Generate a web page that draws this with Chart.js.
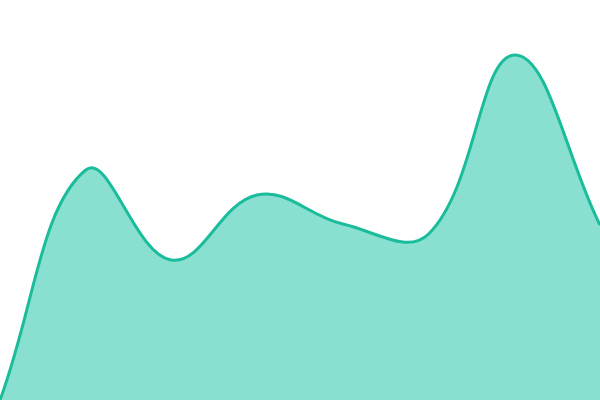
<!DOCTYPE html>
<html>
<head>
<meta charset="utf-8">
<script src="https://cdn.jsdelivr.net/npm/chart.js@4.4.1/dist/chart.umd.min.js"></script>
<style>
  html, body { margin: 0; padding: 0; background: #fff; }
  #wrap { width: 600px; height: 400px; }
</style>
</head>
<body>
<div id="wrap"><canvas id="area-chart"></canvas></div>
<script>
// Area chart data
const labels = ["1", "2", "3", "4", "5", "6", "7", "8"];
const values = [0, 230, 140, 205, 176, 166, 345, 175];

const ctx = document.getElementById("area-chart").getContext("2d");
new Chart(ctx, {
  type: "line",
  data: {
    labels: labels,
    datasets: [
      {
        data: values,
        borderColor: "#1abc9c",
        backgroundColor: "#89e0d0",
        borderWidth: 3,
        fill: "origin",
        tension: 0.4,
        pointRadius: 0,
      },
    ],
  },
  options: {
    responsive: true,
    maintainAspectRatio: false,
    animation: false,
    layout: { padding: 0 },
    plugins: { legend: { display: false }, tooltip: { enabled: false } },
    scales: {
      x: { display: false, offset: false },
      y: { display: false, min: 0, max: 400 },
    },
  },
});
</script>
</body>
</html>
